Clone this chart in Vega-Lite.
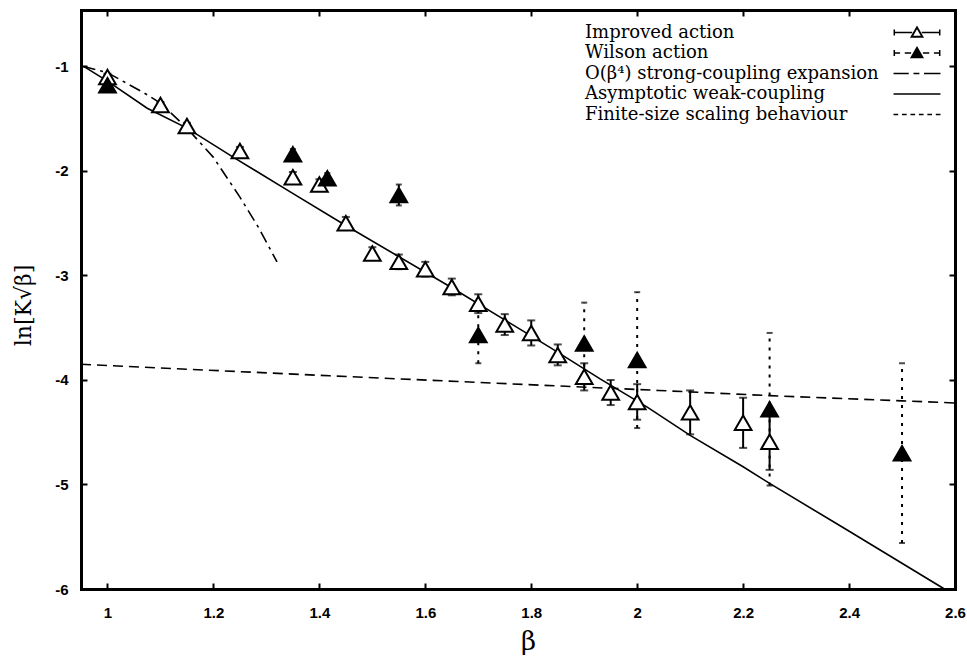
{
  "$schema": "https://vega.github.io/schema/vega-lite/v6.json",
  "width": 874,
  "height": 579,
  "autosize": {"type": "none"},
  "padding": {"left": 81, "top": 10, "right": 12, "bottom": 75},
  "background": "white",
  "config": {"view": {"stroke": null}, "font": "Liberation Sans"},
  "datasets": {
    "curves": [
      {"b": 0.955, "v": -1.0, "series": "weak"},
      {"b": 1.0, "v": -1.14, "series": "weak"},
      {"b": 1.075, "v": -1.4, "series": "weak"},
      {"b": 1.15, "v": -1.59, "series": "weak"},
      {"b": 1.238, "v": -1.87, "series": "weak"},
      {"b": 1.345, "v": -2.2, "series": "weak"},
      {"b": 1.449, "v": -2.52, "series": "weak"},
      {"b": 1.651, "v": -3.12, "series": "weak"},
      {"b": 1.836, "v": -3.69, "series": "weak"},
      {"b": 1.93, "v": -3.99, "series": "weak"},
      {"b": 2.019, "v": -4.26, "series": "weak"},
      {"b": 2.1, "v": -4.53, "series": "weak"},
      {"b": 2.2, "v": -4.83, "series": "weak"},
      {"b": 2.25, "v": -4.99, "series": "weak"},
      {"b": 2.398, "v": -5.44, "series": "weak"},
      {"b": 2.58, "v": -6.0, "series": "weak"},
      {"b": 0.955, "v": -1.0, "series": "strong"},
      {"b": 1.0, "v": -1.06, "series": "strong"},
      {"b": 1.068, "v": -1.25, "series": "strong"},
      {"b": 1.1, "v": -1.35, "series": "strong"},
      {"b": 1.15, "v": -1.59, "series": "strong"},
      {"b": 1.2, "v": -1.87, "series": "strong"},
      {"b": 1.25, "v": -2.25, "series": "strong"},
      {"b": 1.285, "v": -2.54, "series": "strong"},
      {"b": 1.32, "v": -2.87, "series": "strong"},
      {"b": 0.95, "v": -3.85, "series": "finite"},
      {"b": 1.42, "v": -3.96, "series": "finite"},
      {"b": 2.04, "v": -4.1, "series": "finite"},
      {"b": 2.25, "v": -4.15, "series": "finite"},
      {"b": 2.5, "v": -4.2, "series": "finite"},
      {"b": 2.6, "v": -4.22, "series": "finite"}
    ],
    "pts": [
      {"b": 1.0, "v": -1.1, "lo": -1.13, "hi": -1.07, "series": "Improved action"},
      {"b": 1.1, "v": -1.37, "lo": -1.4, "hi": -1.34, "series": "Improved action"},
      {"b": 1.15, "v": -1.57, "lo": -1.6, "hi": -1.54, "series": "Improved action"},
      {"b": 1.25, "v": -1.81, "lo": -1.85, "hi": -1.77, "series": "Improved action"},
      {"b": 1.35, "v": -2.06, "lo": -2.11, "hi": -2.01, "series": "Improved action"},
      {"b": 1.4, "v": -2.13, "lo": -2.18, "hi": -2.08, "series": "Improved action"},
      {"b": 1.45, "v": -2.5, "lo": -2.56, "hi": -2.44, "series": "Improved action"},
      {"b": 1.5, "v": -2.79, "lo": -2.85, "hi": -2.73, "series": "Improved action"},
      {"b": 1.55, "v": -2.87, "lo": -2.94, "hi": -2.8, "series": "Improved action"},
      {"b": 1.6, "v": -2.94, "lo": -3.01, "hi": -2.87, "series": "Improved action"},
      {"b": 1.65, "v": -3.11, "lo": -3.19, "hi": -3.03, "series": "Improved action"},
      {"b": 1.7, "v": -3.27, "lo": -3.36, "hi": -3.18, "series": "Improved action"},
      {"b": 1.75, "v": -3.47, "lo": -3.57, "hi": -3.37, "series": "Improved action"},
      {"b": 1.8, "v": -3.55, "lo": -3.67, "hi": -3.43, "series": "Improved action"},
      {"b": 1.85, "v": -3.76, "lo": -3.86, "hi": -3.66, "series": "Improved action"},
      {"b": 1.9, "v": -3.97, "lo": -4.1, "hi": -3.84, "series": "Improved action"},
      {"b": 1.95, "v": -4.12, "lo": -4.24, "hi": -4.0, "series": "Improved action"},
      {"b": 2.0, "v": -4.21, "lo": -4.38, "hi": -4.04, "series": "Improved action"},
      {"b": 2.1, "v": -4.31, "lo": -4.52, "hi": -4.1, "series": "Improved action"},
      {"b": 2.2, "v": -4.41, "lo": -4.65, "hi": -4.17, "series": "Improved action"},
      {"b": 2.25, "v": -4.59, "lo": -4.86, "hi": -4.32, "series": "Improved action"},
      {"b": 1.0, "v": -1.18, "lo": -1.21, "hi": -1.15, "series": "Wilson action"},
      {"b": 1.35, "v": -1.84, "lo": -1.89, "hi": -1.79, "series": "Wilson action"},
      {"b": 1.415, "v": -2.07, "lo": -2.12, "hi": -2.02, "series": "Wilson action"},
      {"b": 1.55, "v": -2.23, "lo": -2.33, "hi": -2.13, "series": "Wilson action"},
      {"b": 1.7, "v": -3.57, "lo": -3.84, "hi": -3.3, "series": "Wilson action"},
      {"b": 1.9, "v": -3.65, "lo": -4.04, "hi": -3.26, "series": "Wilson action"},
      {"b": 2.0, "v": -3.81, "lo": -4.46, "hi": -3.16, "series": "Wilson action"},
      {"b": 2.25, "v": -4.28, "lo": -5.01, "hi": -3.55, "series": "Wilson action"},
      {"b": 2.5, "v": -4.7, "lo": -5.56, "hi": -3.84, "series": "Wilson action"}
    ]
  },
  "layer": [
    {
      "data": {"name": "curves"},
      "transform": [{"filter": "datum.series === 'weak'"}],
      "mark": {"type": "line", "color": "black", "strokeWidth": 1.6},
      "encoding": {
        "x": {"field": "b", "type": "quantitative", "scale": {"domain": [0.95, 2.6], "nice": false, "zero": false},
          "axis": {"orient": "bottom", "values": [1, 1.2, 1.4, 1.6, 1.8, 2, 2.2, 2.4, 2.6], "labelExpr": "'' + datum.value",
            "domainColor": "black", "domainWidth": 3, "domainCap": "square", "tickColor": "black", "tickWidth": 2, "tickSize": -6,
            "labelPadding": 22, "labelFont": "Liberation Sans", "labelFontSize": 15, "labelFontWeight": "bold", "labelColor": "black",
            "grid": false, "labelFlush": false, "labelOverlap": false,
            "title": "β", "titleFont": "DejaVu Serif", "titleFontSize": 26, "titleFontWeight": "normal", "titleColor": "black",
            "titleX": 447, "titleY": 60, "titleBaseline": "alphabetic", "titleAlign": "center"}},
        "y": {"field": "v", "type": "quantitative", "scale": {"domain": [-6, -0.46], "nice": false, "zero": false},
          "axis": {"orient": "left", "values": [-1, -2, -3, -4, -5, -6], "labelExpr": "'' + datum.value",
            "domainColor": "black", "domainWidth": 3, "domainCap": "square", "tickColor": "black", "tickWidth": 2, "tickSize": -6,
            "labelPadding": 19, "labelFont": "Liberation Sans", "labelFontSize": 15, "labelFontWeight": "bold", "labelColor": "black",
            "grid": false, "labelFlush": false, "labelOverlap": false,
            "title": "ln[K√β]", "titleFont": "DejaVu Serif", "titleFontSize": 22, "titleFontWeight": "normal", "titleColor": "black",
            "titleX": -58, "titleY": 295, "titleAngle": -90, "titleBaseline": "middle", "titleAlign": "center"}}
      }
    },
    {
      "data": {"name": "curves"},
      "transform": [{"filter": "datum.series === 'strong'"}],
      "mark": {"type": "line", "color": "black", "strokeWidth": 1.6, "strokeDash": [12, 5, 3, 5]},
      "encoding": {
        "x": {"field": "b", "type": "quantitative", "axis": null},
        "y": {"field": "v", "type": "quantitative", "axis": null}
      }
    },
    {
      "data": {"name": "curves"},
      "transform": [{"filter": "datum.series === 'finite'"}],
      "mark": {"type": "line", "color": "black", "strokeWidth": 1.6, "strokeDash": [10, 6]},
      "encoding": {
        "x": {"field": "b", "type": "quantitative", "axis": null},
        "y": {"field": "v", "type": "quantitative", "axis": null}
      }
    },
    {
      "data": {"name": "pts"},
      "transform": [{"filter": "datum.series === 'Improved action'"}],
      "mark": {"type": "errorbar", "color": "black", "rule": {"strokeWidth": 2}, "ticks": {"size": 8, "thickness": 2}},
      "encoding": {
        "x": {"field": "b", "type": "quantitative", "axis": null},
        "y": {"field": "lo", "type": "quantitative", "axis": null},
        "y2": {"field": "hi"}
      }
    },
    {
      "data": {"name": "pts"},
      "transform": [{"filter": "datum.series === 'Wilson action'"}],
      "mark": {"type": "errorbar", "color": "black", "rule": {"strokeWidth": 2, "strokeDash": [3, 6]}, "ticks": {"size": 6, "thickness": 2}},
      "encoding": {
        "x": {"field": "b", "type": "quantitative", "axis": null},
        "y": {"field": "lo", "type": "quantitative", "axis": null},
        "y2": {"field": "hi"}
      }
    },
    {
      "data": {"name": "pts"},
      "mark": {"type": "point", "shape": "triangle-up", "filled": false, "strokeWidth": 2, "stroke": "black", "opacity": 1, "size": 280},
      "encoding": {
        "x": {"field": "b", "type": "quantitative",
          "axis": {"orient": "top", "values": [1, 1.2, 1.4, 1.6, 1.8, 2, 2.2, 2.4, 2.6], "labels": false, "title": null,
            "domainColor": "black", "domainWidth": 3, "domainCap": "square", "tickColor": "black", "tickWidth": 2, "tickSize": -6, "grid": false}},
        "y": {"field": "v", "type": "quantitative",
          "axis": {"orient": "right", "values": [-1, -2, -3, -4, -5, -6], "labels": false, "title": null,
            "domainColor": "black", "domainWidth": 3, "domainCap": "square", "tickColor": "black", "tickWidth": 2, "tickSize": -6, "grid": false}},
        "fill": {"field": "series", "type": "nominal", "legend": null,
          "scale": {"domain": ["Improved action", "Wilson action"], "range": ["white", "black"]}}
      }
    },
    {
      "data": {"name": "pts"},
      "transform": [{"filter": "false"}],
      "mark": {"type": "point", "filled": true, "color": "black", "opacity": 1},
      "encoding": {
        "x": {"field": "b", "type": "quantitative", "axis": null},
        "y": {"field": "v", "type": "quantitative", "axis": null},
        "shape": {"field": "series", "type": "nominal",
          "scale": {"domain": ["Improved action", "Wilson action", "O(β⁴) strong-coupling expansion", "Asymptotic weak-coupling", "Finite-size scaling behaviour"],
            "range": [
              "M-2.47,-0.32H-2.31V0.32H-2.47ZM-2.47,-0.08H-0.5V0.08H-2.47ZM0.5,-0.08H2.47V0.08H0.5ZM2.31,-0.32H2.47V0.32H2.31ZM-0.74,0.54L0,-0.74L0.74,0.54ZM0.392,0.339L0,-0.339L-0.392,0.339Z",
              "M-2.47,-0.32H-2.31V0.32H-2.47ZM-2.47,-0.08H-1.78V0.08H-2.47ZM-1.29,-0.08H-0.62V0.08H-1.29ZM0.62,-0.08H1.29V0.08H0.62ZM1.78,-0.08H2.47V0.08H1.78ZM2.31,-0.32H2.47V0.32H2.31ZM-0.74,0.54L0,-0.74L0.74,0.54Z",
              "M-2.47,-0.08H-0.87V0.08H-2.47ZM-0.37,-0.08H0.25V0.08H-0.37ZM0.74,-0.08H2.47V0.08H0.74Z",
              "M-2.47,-0.08H2.47V0.08H-2.47Z",
              "M-2.47,-0.08H-1.98V0.08H-2.47ZM-1.58,-0.08H-1.09V0.08H-1.58ZM-0.69,-0.08H-0.2V0.08H-0.69ZM0.2,-0.08H0.69V0.08H0.2ZM1.09,-0.08H1.58V0.08H1.09ZM1.98,-0.08H2.47V0.08H1.98Z"
            ]},
          "legend": {"orient": "none", "legendX": 502, "legendY": 12, "title": null, "padding": 0, "rowPadding": 0.5,
            "symbolSize": 361, "symbolOffset": 323.5, "labelOffset": -342.5, "labelLimit": 500,
            "symbolFillColor": "black", "symbolOpacity": 1,
            "labelFont": "DejaVu Serif", "labelFontSize": 18, "labelColor": "black"}}
      }
    }
  ]
}
